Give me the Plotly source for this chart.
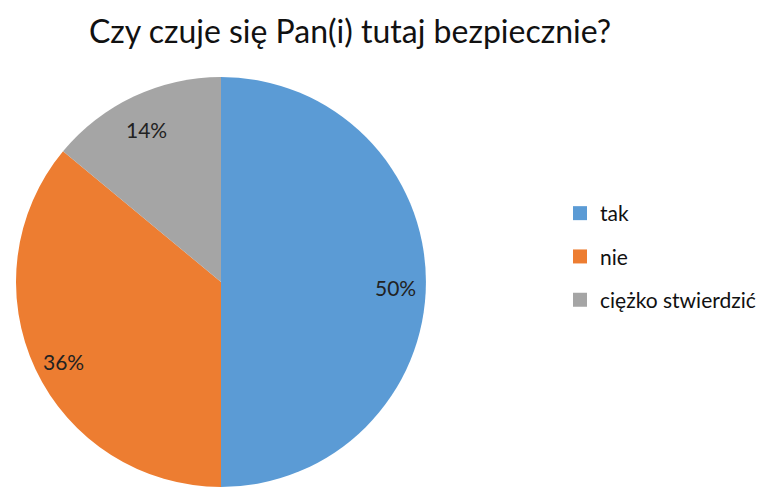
import math
import plotly.graph_objects as go

labels = ["tak", "nie", "ciężko stwierdzić"]
values = [50, 36, 14]
colors = ["#5B9BD5", "#ED7D31", "#A5A5A5"]
title = "Czy czuje się Pan(i) tutaj bezpiecznie?"

FONT = "Lato, 'Open Sans', sans-serif"
W, H = 763, 480  # page adds 8px body margin

# pie geometry in figure pixels
CX, CY, R = 213, 274, 205

fig = go.Figure()
fig.add_trace(go.Pie(
    labels=labels, values=values, sort=False, direction="clockwise", rotation=0,
    marker=dict(colors=colors, line=dict(width=0)),
    textinfo="none",
    showlegend=False,
    domain=dict(x=[max(0, (CX - R) / W), min(1, (CX + R) / W)],
                y=[max(0, 1 - (CY + R) / H), min(1, 1 - (CY - R) / H)]),
    hoverinfo="label+percent",
))
for lab, col in zip(labels, colors):
    fig.add_trace(go.Scatter(
        x=[None], y=[None], mode="markers", name=lab, legendgroup=lab,
        marker=dict(symbol="square", size=14, color=col),
    ))

# percentage labels, placed along each slice's bisector
total = sum(values)
cum = 0
annotations = []
for v in values:
    mid = (cum + v / 2) / total * 2 * math.pi
    cum += v
    rr = 0.85 * R
    px = CX + rr * math.sin(mid)
    py = CY - rr * math.cos(mid)
    annotations.append(dict(
        x=px / W, y=1 - py / H, xref="paper", yref="paper",
        xanchor="center", yanchor="middle", yshift=-5,
        text=f"{round(v / total * 100)}%", showarrow=False,
        font=dict(family=FONT, size=21, color="#222222"),
    ))

fig.update_layout(
    width=W, height=H,
    margin=dict(l=0, r=0, t=0, b=0),
    paper_bgcolor="white", plot_bgcolor="white",
    title=dict(text=title, x=342 / W, xanchor="center", y=1 - 24 / H, yanchor="middle",
               font=dict(family=FONT, size=32, color="#111111")),
    xaxis=dict(visible=False), yaxis=dict(visible=False),
    legend=dict(x=552 / W, y=1 - 185 / H, xanchor="left", yanchor="top",
                font=dict(family=FONT, size=21, color="#111111"),
                tracegroupgap=13, itemwidth=30, bgcolor="rgba(0,0,0,0)"),
    annotations=annotations,
)
fig.write_html("out.html")
